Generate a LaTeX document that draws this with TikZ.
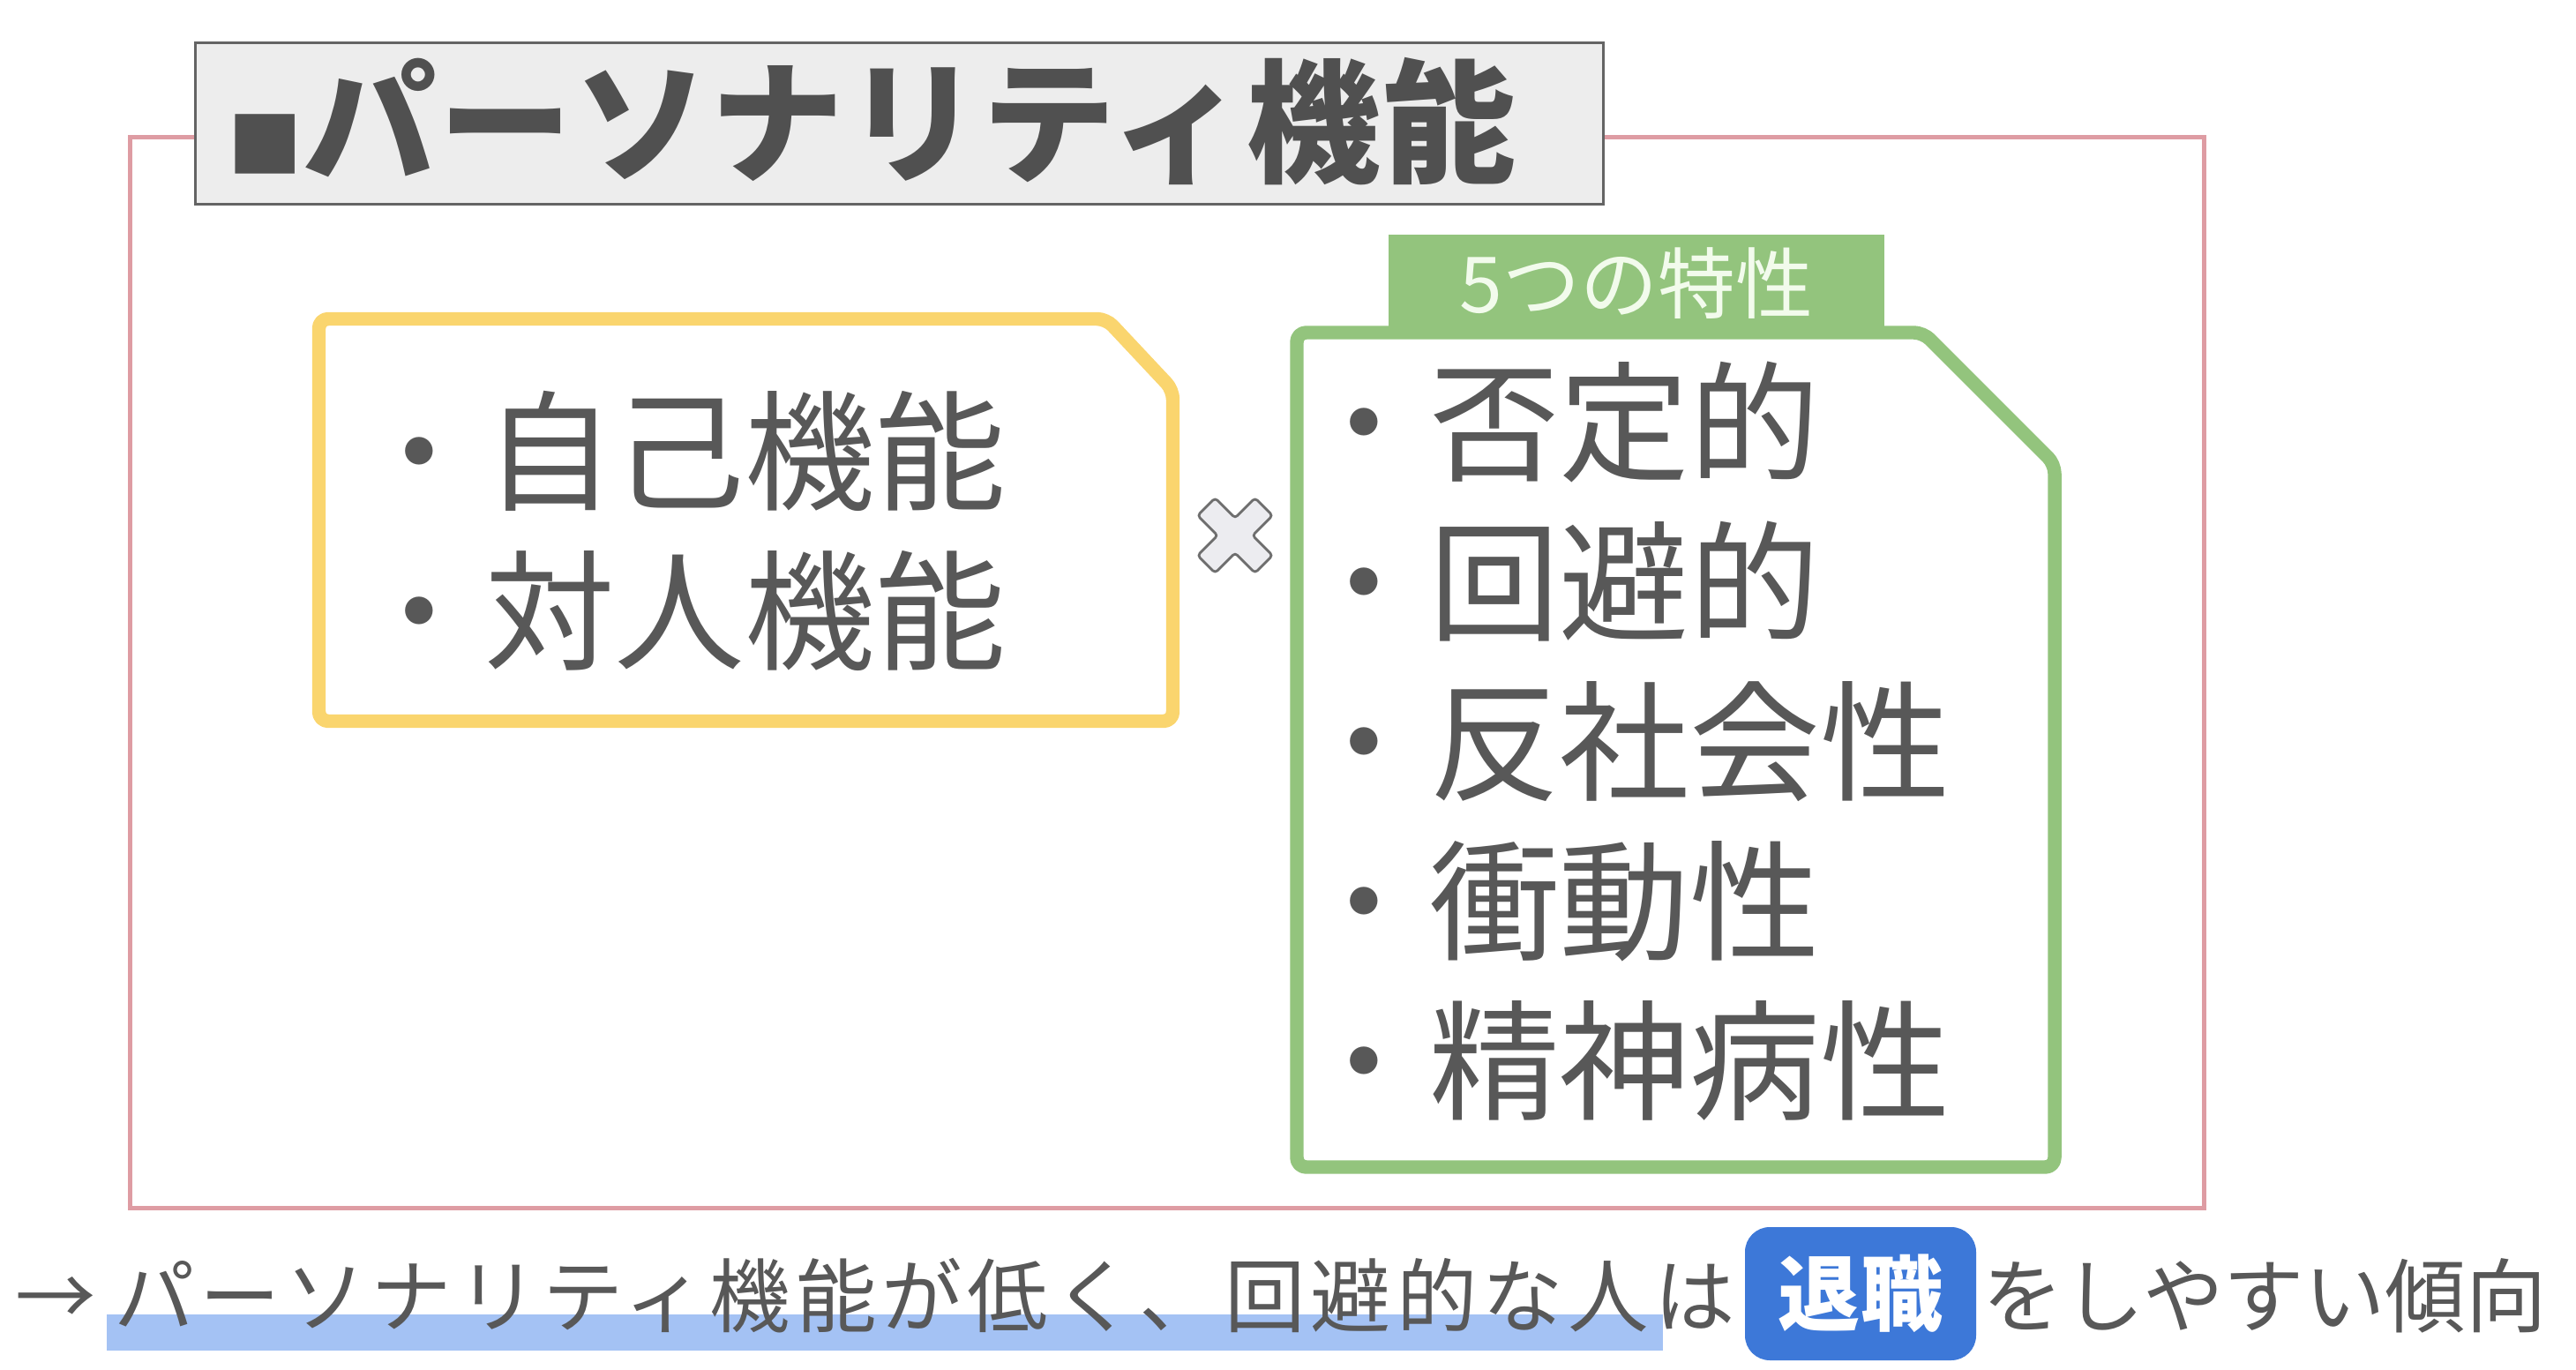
\documentclass[tikz,border=0pt]{standalone}
\usepackage{fontspec}
\setmainfont{Noto Sans CJK JP}
\definecolor{inkgray}{RGB}{88,88,88}
\definecolor{headink}{RGB}{80,80,80}
\definecolor{headfill}{RGB}{237,237,237}
\definecolor{headdraw}{RGB}{100,100,100}
\definecolor{framered}{RGB}{222,156,163}
\definecolor{cardyellow}{RGB}{250,213,110}
\definecolor{cardgreen}{RGB}{147,196,125}
\definecolor{tabink}{RGB}{242,251,236}
\definecolor{crossfill}{RGB}{236,236,240}
\definecolor{crossdraw}{RGB}{110,110,110}
\definecolor{keyblue}{RGB}{61,120,216}
\definecolor{markblue}{RGB}{164,194,244}
\begin{document}
\begin{tikzpicture}[
  frame/.style={draw=framered, line width=1.4pt},
  headbox/.style={
    rectangle, draw=headdraw, fill=headfill, line width=0.9pt,
    minimum width=15.96cm, minimum height=1.83cm, inner sep=0pt
  },
  headtext/.style={anchor=west, inner sep=0pt, text=headink, font=\bfseries\fontsize{43pt}{43pt}\selectfont},
  card/.style={fill=white, line width=4.4pt, rounded corners=3pt, line join=round},
  ycard/.style={card, draw=cardyellow},
  gcard/.style={card, draw=cardgreen},
  items/.style={
    anchor=west, align=left, inner sep=0pt, text=inkgray,
    font=\fontsize{42pt}{51.5pt}\selectfont
  },
  tab/.style={
    rectangle, fill=cardgreen, inner sep=0pt, minimum width=5.62cm,
    minimum height=1.11cm, text=tabink, font=\fontsize{25pt}{25pt}\selectfont
  },
  crossmark/.style={draw=crossdraw, fill=crossfill, line width=0.8pt, rounded corners=1pt},
  note/.style={anchor=west, inner sep=0pt, text=inkgray, font=\fontsize{26pt}{26pt}\selectfont},
  keyword/.style={
    rectangle, rounded corners=8pt, fill=keyblue, text=white, inner sep=0pt,
    minimum width=2.62cm, minimum height=1.51cm,
    font=\bfseries\fontsize{26.5pt}{26.5pt}\selectfont
  },
  marker/.style={fill=markblue}
]
\useasboundingbox (0,0) rectangle (29.2,15.52);

% --- Outer frame and heading ---
\draw[frame] (1.475,1.825) rectangle (24.985,13.965);
\node[headbox] (head) at (10.195,14.12) {};
\node[headtext] (headlabel) at (2.58,14.14)
  {{\fontsize{24pt}{24pt}\selectfont ■}\addfontfeature{LetterSpace=2}パーソナリティ機能};

% --- Left card: functions ---
\draw[ycard] (3.615,7.345) -- (3.615,11.905) -- (12.54,11.905)
  -- (13.295,11.10) -- (13.295,7.345) -- cycle;
\node[items] (funcs) at (4.01,9.50) {・自己機能\\・対人機能};

% --- Multiplication sign ---
\begin{scope}[shift={(14.00,9.45)}, rotate=45]
  \draw[crossmark] (-0.14,-0.46) -- (0.14,-0.46) -- (0.14,-0.14) -- (0.46,-0.14)
    -- (0.46,0.14) -- (0.14,0.14) -- (0.14,0.46) -- (-0.14,0.46) -- (-0.14,0.14)
    -- (-0.46,0.14) -- (-0.46,-0.14) -- (-0.14,-0.14) -- cycle;
\end{scope}

% --- Right card: five traits ---
\node[tab] (traittab) at (18.55,12.305) {5つの特性};
\draw[gcard] (14.70,2.29) -- (14.70,11.75) -- (21.80,11.75)
  -- (23.29,10.26) -- (23.29,2.29) -- cycle;
\node[items] (traits) at (14.72,7.12)
  {・否定的\\・回避的\\・反社会性\\・衝動性\\・精神病性};

% --- Conclusion line ---
\fill[marker] (1.21,0.21) rectangle (18.85,0.62);
\node[note] (lead) at (0.17,0.83)
  {→\hspace{0.2cm}\addfontfeature{LetterSpace=6.5}パーソナリティ機能が低く、回避的な人は};
\node[keyword] (quit) at (21.09,0.855) {退職};
\node[note] (tail) at (22.47,0.83) {をしやすい傾向};

\end{tikzpicture}
\end{document}
